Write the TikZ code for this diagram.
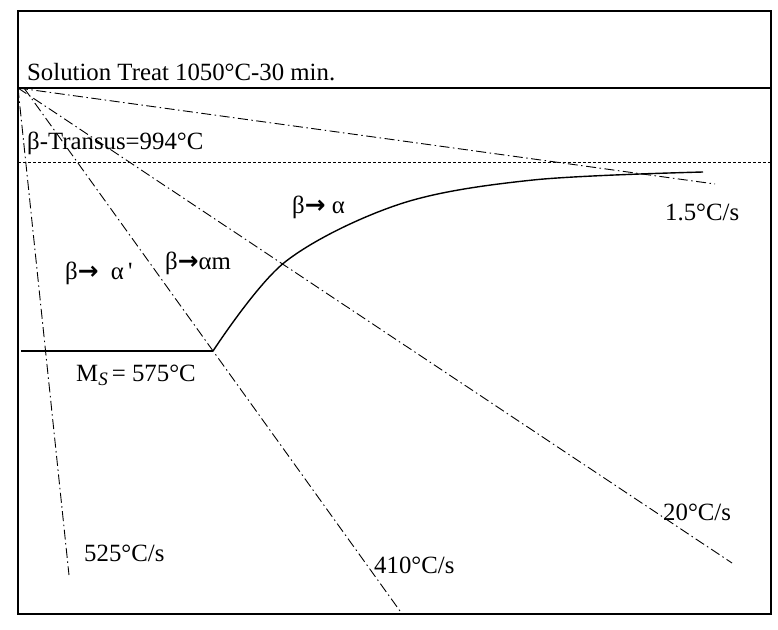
\documentclass[tikz,border=0pt]{standalone}
\usepackage{fontspec}
\setmainfont{Liberation Serif}
\newfontfamily\arrowfont{DejaVu Sans}
\newcommand{\tto}{{\arrowfont\bfseries →}}

\begin{document}
\begin{tikzpicture}[x=1pt,y=-1pt,
  rate/.style={black,line width=0.9pt,dash pattern=on 10pt off 3.5pt on 1.5pt off 3.5pt},
  frame/.style={black,line width=1.5pt},
  transus/.style={black,line width=0.9pt,dash pattern=on 3pt off 2pt},
  label/.style={font=\fontsize{24.8}{28}\selectfont,inner sep=0pt,anchor=west}]
\useasboundingbox (0,0) rectangle (778,629);
\tikzstyle{every node}+=[inner sep=0pt]
% frame and reference lines
\draw [frame] (18,11) rectangle (771,614);
\coordinate (O) at (18,88);
\coordinate (R) at (771,88);
\draw [frame] (O) -- (R);
\coordinate (TL) at (18,162);
\coordinate (TR) at (771,162);
\draw [transus] (TL) -- (TR);
\coordinate (MsL) at (21,351);
\coordinate (MsC) at (213,351);
\draw [black,line width=1.2pt] (MsL) -- (MsC);
% cooling lines
\coordinate (S410) at (24,88);
\coordinate (E525) at (69,575);
\coordinate (E410) at (400,611);
\coordinate (E20) at (732,563);
\coordinate (E15) at (715,184);
\draw [rate] (O) -- (E525);
\draw [rate] (S410) -- (E410);
\draw [rate] (O) -- (E20);
\draw [rate] (O) -- (E15);
% beta -> alpha boundary
\draw [black,line width=1.4pt] plot [smooth,tension=0.55] coordinates
  {(MsC) (285,262) (400,204) (533,180) (703,172)};
% labels
\node [label] (sol) at (27,72) {Solution Treat 1050°C-30 min.};
\node [label] (tr) at (27,143) {β-Transus=994°C};
\node [label] (ba) at (292,207) {β\tto\ α};
\node [label] (bap) at (65,273) {β\tto\ \ α\,\textquotesingle};
\node [label] (bam) at (165,263) {β\tto αm};
\node [label] (ms) at (76,375) {M{\fontsize{19}{19}\selectfont\raisebox{-4pt}{\textit{S}}}\,= 575°C};
\node [label] (r15) at (665,212) {1.5°C/s};
\node [label] (r20) at (663,512) {20°C/s};
\node [label] (r525) at (84,553) {525°C/s};
\node [label] (r410) at (374,565) {410°C/s};
\end{tikzpicture}
\end{document}
